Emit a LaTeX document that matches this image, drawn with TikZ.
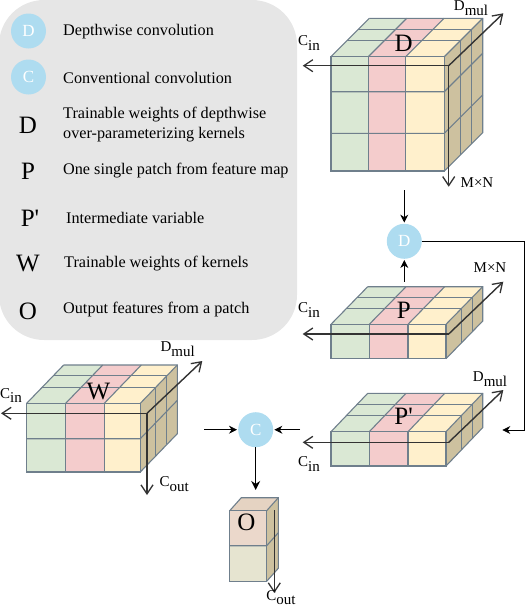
\documentclass[tikz,border=0pt]{standalone}
\usepackage{fontspec}
\setmainfont{Liberation Serif}
\newfontfamily\plainserif{Liberation Serif}
\usetikzlibrary{arrows.meta}
\definecolor{cgreen}{HTML}{DAE8D4}
\definecolor{cpink}{HTML}{F4CCCC}
\definecolor{cyellow}{HTML}{FFF0CC}
\definecolor{cside}{HTML}{CDC19F}
\definecolor{cedge}{HTML}{6F7F8C}
\definecolor{cblue}{HTML}{AEDCF0}
\definecolor{cpanel}{HTML}{E6E6E6}
\definecolor{cpeach}{HTML}{EBD8CB}
\definecolor{colive}{HTML}{E6E4D0}
\newcommand{\fs}[1]{\fontsize{#1}{#1}\selectfont}
\newcommand{\lblsub}[2]{#1\raisebox{-.32em}{#2}}
% x0 x1 x2 x3 ytop ybottom dx dy depthfractions
\newcommand{\ocube}[9]{%
  \def\dfr{#9}%
  \fill[cside] (#4,#5) -- ++(#7,#8) -- (#4+#7,#6+#8) -- (#4,#6) -- cycle;
  \fill[cgreen] (#1,#5) -- (#2,#5) -- (#2+#7,#5+#8) -- (#1+#7,#5+#8) -- cycle;
  \fill[cpink] (#2,#5) -- (#3,#5) -- (#3+#7,#5+#8) -- (#2+#7,#5+#8) -- cycle;
  \fill[cyellow] (#3,#5) -- (#4,#5) -- (#4+#7,#5+#8) -- (#3+#7,#5+#8) -- cycle;
  \fill[cgreen] (#1,#5) rectangle (#2,#6);
  \fill[cpink] (#2,#5) rectangle (#3,#6);
  \fill[cyellow] (#3,#5) rectangle (#4,#6);
  \foreach \f in \dfr {
    \draw[edgeline] (#1+\f*#7,#5+\f*#8) -- (#4+\f*#7,#5+\f*#8);
    \draw[edgeline] (#4+\f*#7,#5+\f*#8) -- (#4+\f*#7,#6+\f*#8);
  }
  \foreach \xx in {#1,#2,#3,#4} \draw[edgeline] (\xx,#5) -- ++(#7,#8);
  \draw[edgeline] (#4,#6) -- ++(#7,#8) -- (#4+#7,#5+#8) -- (#1+#7,#5+#8);
  \draw[edgeline] (#1,#5) rectangle (#4,#6);
  \foreach \xx in {#2,#3} \draw[edgeline] (\xx,#5) -- (\xx,#6);
}
\newcommand{\orows}[5]{% x0 x3 dx dy ylist
  \foreach \yy in {#5} {
    \draw[edgeline] (#1,\yy) -- (#2,\yy) -- ++(#3,#4);
  }
}
\tikzset{
  edgeline/.style={draw=cedge,line width=1.1pt},
  axisline/.style={draw=black!80,line width=1.4pt,-{Straight Barb[length=9pt,width=12pt,line width=1.3pt]}},
  flowline/.style={draw=black,line width=0.8pt,-{Stealth[length=8pt,width=8pt]}},
  flowthick/.style={draw=black,line width=1.4pt,-{Stealth[length=9pt,width=9pt]}},
  opcircle/.style={circle,fill=cblue,minimum size=35pt,inner sep=0pt,text=white,font=\fs{17}},
  legendtext/.style={anchor=west,inner sep=0pt,font=\fs{16.2},align=left},
  symbol/.style={inner sep=0pt,font=\fs{25}},
  cubeletter/.style={inner sep=0pt,font=\fs{25}},
  axislabel/.style={inner sep=0pt,font=\fs{15}},
}
\begin{document}
\begin{tikzpicture}[x=1pt,y=-1pt]
\useasboundingbox (0,0) rectangle (526,608);
% legend panel
\fill[cpanel,rounded corners=45pt] (-1,0) rectangle (297,340);
\node[opcircle] (legD) at (28.5,31) {D};
\node[opcircle] (legC) at (28.5,77) {C};
\node[legendtext] (t1) at (63,31.5) {Depthwise convolution};
\node[legendtext] (t2) at (63,77.5) {Conventional convolution};
\node[legendtext] (t3a) at (63,115) {Trainable weights of depthwise};
\node[legendtext] (t3b) at (63,135) {over-parameterizing kernels};
\node[legendtext] (t4) at (63,171) {One single patch from feature map};
\node[legendtext] (t5) at (66,217.5) {Intermediate variable};
\node[legendtext] (t6) at (64,264) {Trainable weights of kernels};
\node[legendtext] (t7) at (63,310) {Output features from a patch};
\node[symbol] (s1) at (28,125) {D};
\node[symbol] (s2) at (28,171) {P};
\node[symbol] (s3) at (30,218) {\plainserif P'};
\node[symbol] (s4) at (28,264) {W};
\node[symbol] (s5) at (28,311) {O};
% cube D
\ocube{331}{368.3}{405.7}{444.3}{56.7}{171}{38.4}{-38.4}{.42,.7}
\orows{331}{444.3}{38.4}{-38.4}{91.7,133.3}
\coordinate (o1) at (448.7,65.7);
\coordinate (o1l) at (302.7,65.7);
\coordinate (o1u) at (503.3,13.3);
\coordinate (o1d) at (448.7,186.7);
\draw[axisline] (o1) -- (o1l);
\draw[axisline] (o1) -- (o1u);
\draw[axisline] (o1) -- (o1d);
\node[axislabel] (l1c) at (309,43) {\lblsub{C}{in}};
\node[axislabel] (l1d) at (471,8) {\lblsub{D}{mul}};
\node[axislabel] (l1m) at (477,183) {M×N};
\node[cubeletter] (lD) at (403.7,43) {D};
% cube P
\ocube{331}{369.3}{408}{446}{324.3}{358.7}{36.7}{-37.6}{.42,.72}
\coordinate (o2) at (448.7,334);
\coordinate (o2l) at (302.7,334);
\coordinate (o2u) at (503.3,281.7);
\draw[axisline] (o2) -- (o2l);
\draw[axisline] (o2) -- (o2u);
\node[axislabel] (l2c) at (309,310) {\lblsub{C}{in}};
\node[axislabel] (l2m) at (490,268) {M×N};
\node[cubeletter] (lP) at (403.7,310) {P};
% cube P'
\ocube{331}{369.3}{408}{446}{431.7}{466}{36.7}{-38.4}{.42,.72}
\coordinate (o3) at (448.7,442.3);
\coordinate (o3l) at (302.7,442.3);
\coordinate (o3u) at (503.3,390);
\draw[axisline] (o3) -- (o3l);
\draw[axisline] (o3) -- (o3u);
\node[axislabel] (l3c) at (309,464) {\lblsub{C}{in}};
\node[axislabel] (l3d) at (490,379) {\lblsub{D}{mul}};
\node[cubeletter] (lPp) at (403.7,416) {\plainserif P'};
% cube W
\ocube{26.7}{65.7}{104.3}{140.3}{403.3}{472}{37}{-38.3}{.42,.72}
\orows{26.7}{140.3}{37}{-38.3}{438.7}
\coordinate (o4) at (147,413.3);
\coordinate (o4l) at (1,413.3);
\coordinate (o4u) at (202.3,361);
\coordinate (o4d) at (147,495);
\draw[axisline] (o4) -- (o4l);
\draw[axisline] (o4) -- (o4u);
\draw[axisline] (o4) -- (o4d);
\node[axislabel] (l4c) at (11,395.5) {\lblsub{C}{in}};
\node[axislabel] (l4d) at (177.7,349) {\lblsub{D}{mul}};
\node[axislabel] (l4o) at (174.3,484) {\lblsub{C}{out}};
\node[cubeletter] (lW) at (98.3,391) {W};
% block O
\fill[cside] (266.7,510.7) -- (278.3,497.7) -- (278.3,568.3) -- (266.7,581.3) -- cycle;
\fill[cpeach!80!cside] (229.7,510.7) -- (266.7,510.7) -- (278.3,497.7) -- (241.3,497.7) -- cycle;
\fill[cpeach] (229.7,510.7) rectangle (266.7,545.7);
\fill[colive] (229.7,545.7) rectangle (266.7,581.3);
\draw[edgeline] (229.7,510.7) rectangle (266.7,581.3);
\draw[edgeline] (229.7,545.7) -- (266.7,545.7) -- (278.3,532.7);
\draw[edgeline] (229.7,510.7) -- (241.3,497.7) -- (278.3,497.7) -- (278.3,568.3) -- (266.7,581.3);
\draw[edgeline] (266.7,510.7) -- (278.3,497.7);
\coordinate (o5) at (274.3,510);
\coordinate (o5d) at (274.3,593);
\draw[axisline] (o5) -- (o5d);
\node[axislabel] (l5o) at (281,597.5) {\lblsub{C}{out}};
\node[cubeletter] (lO) at (246.3,522) {O};
% operations
\node[opcircle] (opD) at (404.3,241.3) {D};
\node[opcircle] (opC) at (255.7,429.7) {C};
\coordinate (a1) at (404.3,190);
\coordinate (a2) at (404.3,281.7);
\coordinate (a3) at (502.3,430);
\coordinate (a4) at (204,429.7);
\coordinate (a5) at (300,429.7);
\coordinate (a6) at (255.7,490);
\draw[flowline,shorten >=1pt] (a1) -- (opD);
\draw[flowline,shorten >=1pt] (a2) -- (opD);
\draw[flowline] (opD.east) -- (524.3,241.3) -- (524.3,430) -- (a3);
\draw[flowline,shorten >=1pt] (a4) -- (opC);
\draw[flowline,shorten >=1pt] (a5) -- (opC);
\draw[flowthick] (opC) -- (a6);
\end{tikzpicture}
\end{document}
